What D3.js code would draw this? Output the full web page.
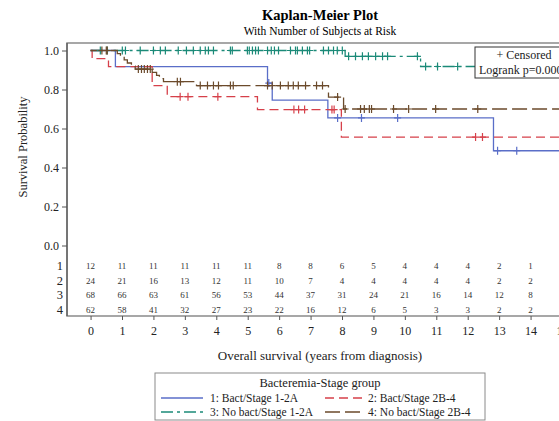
<!DOCTYPE html>
<html>
<head>
<meta charset="utf-8">
<script src="https://cdn.jsdelivr.net/npm/d3@7"></script>
<style>
  body { margin: 0; background: #fff; }
  svg { display: block; font-family: "Liberation Serif", "DejaVu Serif", serif; }
</style>
</head>
<body>
<script>
// data
var groups = ["1: Bact/Stage 1-2A", "2: Bact/Stage 2B-4", "3: No bact/Stage 1-2A", "4: No bact/Stage 2B-4"]
var xTicks = [0, 1, 2, 3, 4, 5, 6, 7, 8, 9, 10, 11, 12, 13, 14, 15]
var yTicks = [0, 0.2, 0.4, 0.6, 0.8, 1.0]

// step curves: [time, survival after the step]
var steps1 = [[0, 1], [0.79, 0.917], [5.63, 0.833], [5.78, 0.746], [7.55, 0.654], [12.82, 0.486], [15.3, 0.486]]
var steps2 = [[0, 1], [0.05, 0.958], [0.57, 0.917], [1.96, 0.82], [2.44, 0.763], [5.31, 0.697], [7.98, 0.556], [15.3, 0.556]]
var steps3 = [[0, 1], [8.1, 0.97], [10.5, 0.918], [12.3, 0.918]]
var steps4 = [[0, 1], [0.85, 0.984], [0.95, 0.968], [1.07, 0.952], [1.17, 0.936], [1.3, 0.92], [1.42, 0.905],
  [1.96, 0.888], [2.1, 0.872], [2.19, 0.856], [2.32, 0.84], [3.37, 0.82], [7.57, 0.761], [8.05, 0.70], [15.3, 0.70]]

// censored times
var cens1 = [5.67, 7.86, 8.62, 9.77, 12.95, 13.56]
var cens2 = [2.85, 3.1, 4.05, 6.47, 6.62, 6.81, 7.68, 7.75, 12.25, 12.47]
var cens3 = [0.31, 0.53, 1.01, 1.11, 1.58, 2.0, 2.22, 2.38, 2.79, 3.05, 3.27, 3.49, 3.65, 3.75, 3.91, 4.45, 4.51,
  4.99, 5.05, 5.15, 5.25, 5.34, 5.63, 5.75, 5.85, 5.98, 6.36, 6.52, 6.58, 6.74, 6.9, 6.97, 7.41, 7.57, 7.73, 7.85, 8.01,
  8.21, 8.43, 8.65, 8.84, 9.07, 9.29, 9.45, 10.4, 10.66, 11.04, 11.68]
var cens4 = [0.36, 0.5, 0.53, 1.52, 1.62, 1.71, 1.81, 1.9, 2.76, 2.86, 3.49, 3.72, 3.91, 4.07, 4.45, 4.54, 5.63, 5.78,
  6.04, 6.29, 6.45, 6.61, 6.84, 7.19, 7.38, 7.86, 8.1, 8.59, 8.71, 8.87, 8.94, 9.64, 10.12, 10.98, 12.32]

// numbers at risk at each year
var risk1 = [12, 11, 11, 11, 11, 11, 8, 8, 6, 5, 4, 4, 4, 2, 1, 1]
var risk2 = [24, 21, 16, 13, 12, 11, 10, 7, 4, 4, 4, 4, 4, 2, 2, 2]
var risk3 = [68, 66, 63, 61, 56, 53, 44, 37, 31, 24, 21, 16, 14, 12, 8, 5]
var risk4 = [62, 58, 41, 32, 27, 23, 22, 16, 12, 6, 5, 3, 3, 2, 2, 1]

var colors = ["#5a6ec8", "#d6404a", "#1b8a78", "#6b4a2b"]
var dashes = [null, "9,5", "12,4,3,4", "15,5"]

var w = 559, h = 421
var plotL = 67, plotR = 573, plotT = 43, plotB = 316

var x = d3.scaleLinear().domain([-0.75, 15.35]).range([plotL, plotR])
var y = d3.scaleLinear().domain([0, 1]).range([245.5, 50.5])

var svg = d3.select("body").append("svg")
  .attr("width", w)
  .attr("height", h)

// titles
svg.append("text").attr("x", 320).attr("y", 20).attr("text-anchor", "middle")
  .style("font-size", "14.5px").style("font-weight", "bold").text("Kaplan-Meier Plot")
svg.append("text").attr("x", 320).attr("y", 35).attr("text-anchor", "middle")
  .style("font-size", "11.5px").text("With Number of Subjects at Risk")

// frame
svg.append("rect")
  .attr("x", plotL).attr("y", plotT)
  .attr("width", plotR - plotL).attr("height", plotB - plotT)
  .attr("fill", "none").attr("stroke", "#8a8a8a").attr("stroke-width", 1.5)
svg.append("line").attr("x1", plotL).attr("x2", plotL).attr("y1", plotT).attr("y2", plotB)
  .attr("stroke", "#555").attr("stroke-width", 1.2)

// y axis
var yAxis = d3.axisLeft(y).tickValues(yTicks).tickFormat(d3.format(".1f")).tickSize(5).tickPadding(3)
var gy = svg.append("g").attr("transform", "translate(" + plotL + ",0)").call(yAxis)
gy.select(".domain").remove()
gy.selectAll("line").attr("stroke", "#555")
gy.selectAll("text").style("font-size", "12px").style("font-family", "Liberation Serif").attr("fill", "#222")

svg.append("text")
  .attr("transform", "translate(27,147) rotate(-90)")
  .attr("text-anchor", "middle")
  .style("font-size", "12.5px").attr("fill", "#222")
  .text("Survival Probability")

// x axis
var xAxis = d3.axisBottom(x).tickValues(xTicks).tickFormat(d3.format("d")).tickSize(4).tickPadding(6)
var gx = svg.append("g").attr("transform", "translate(0," + plotB + ")").call(xAxis)
gx.select(".domain").remove()
gx.selectAll("line").attr("stroke", "#555")
gx.selectAll("text").style("font-size", "12px").style("font-family", "Liberation Serif").attr("fill", "#222")

svg.append("text").attr("x", 320).attr("y", 360).attr("text-anchor", "middle")
  .style("font-size", "13px").attr("fill", "#222")
  .text("Overall survival (years from diagnosis)")

// curves
var allSteps = [steps1, steps2, steps3, steps4]
var allCens = [cens1, cens2, cens3, cens4]
var allRisk = [risk1, risk2, risk3, risk4]

var stepLine = d3.line()
  .x(function(d) { return x(d[0]); })
  .y(function(d) { return y(d[1]); })
  .curve(d3.curveStepAfter)

var plot = svg.append("g")

allSteps.forEach(function(s, i) {
  plot.append("path")
    .datum(s)
    .attr("d", stepLine)
    .attr("fill", "none")
    .attr("stroke", colors[i])
    .attr("stroke-width", 1.3)
    .attr("stroke-dasharray", dashes[i])
})

var bis = d3.bisector(function(d) { return d[0]; }).right
function survAt(s, t) {
  return s[Math.max(0, bis(s, t) - 1)][1]
}

allCens.forEach(function(c, i) {
  plot.selectAll(".cens" + i)
    .data(c)
    .enter()
    .append("path")
    .attr("class", "cens" + i)
    .attr("transform", function(d) { return "translate(" + x(d) + "," + y(survAt(allSteps[i], d)) + ")"; })
    .attr("d", "M-3.5,0H3.5M0,-4V4")
    .attr("stroke", colors[i])
    .attr("stroke-width", 1.2)
})

// numbers at risk
var riskY = [266, 280.5, 295, 309.5]
allRisk.forEach(function(r, i) {
  svg.append("text")
    .attr("x", 63).attr("y", riskY[i] + 4)
    .attr("text-anchor", "end")
    .style("font-size", "12.5px").attr("fill", "#222")
    .text(i + 1)
  svg.selectAll(".risk" + i)
    .data(r)
    .enter()
    .append("text")
    .attr("class", "risk" + i)
    .attr("x", function(d, j) { return x(xTicks[j]); })
    .attr("y", riskY[i] + 3)
    .attr("text-anchor", "middle")
    .style("font-size", "9px").attr("fill", "#333")
    .text(function(d) { return d; })
})

// censored / logrank inset
svg.append("rect").attr("x", 475).attr("y", 47).attr("width", 112).attr("height", 31)
  .attr("fill", "#fff").attr("stroke", "#333").attr("stroke-width", 1)
svg.append("text").attr("x", 524).attr("y", 59).attr("text-anchor", "middle")
  .style("font-size", "12px").attr("fill", "#222").text("+ Censored")
svg.append("text").attr("x", 479).attr("y", 74)
  .style("font-size", "12px").attr("fill", "#222").text("Logrank p=0.0001")

// legend
svg.append("rect").attr("x", 155).attr("y", 373).attr("width", 330).attr("height", 47)
  .attr("fill", "#fff").attr("stroke", "#8a8a8a").attr("stroke-width", 1)
svg.append("text").attr("x", 320).attr("y", 387).attr("text-anchor", "middle")
  .style("font-size", "12.5px").attr("fill", "#222").text("Bacteremia-Stage group")

var legX = [161, 325]
var legY = [398, 412]
var legend = svg.selectAll(".legend")
  .data(groups)
  .enter().append("g")
  .attr("class", "legend")
  .attr("transform", function(d, i) { return "translate(" + legX[i % 2] + "," + legY[Math.floor(i / 2)] + ")"; })

legend.append("line")
  .attr("x1", 0).attr("x2", function(d, i) { return i % 2 == 0 ? 42 : 39; })
  .attr("stroke", function(d, i) { return colors[i]; })
  .attr("stroke-width", 1.3)
  .attr("stroke-dasharray", function(d, i) { return dashes[i]; })

legend.append("text")
  .attr("x", function(d, i) { return i % 2 == 0 ? 49 : 43; })
  .attr("y", 4)
  .style("font-size", "11.5px").attr("fill", "#222")
  .text(function(d) { return d; })
</script>
</body>
</html>
